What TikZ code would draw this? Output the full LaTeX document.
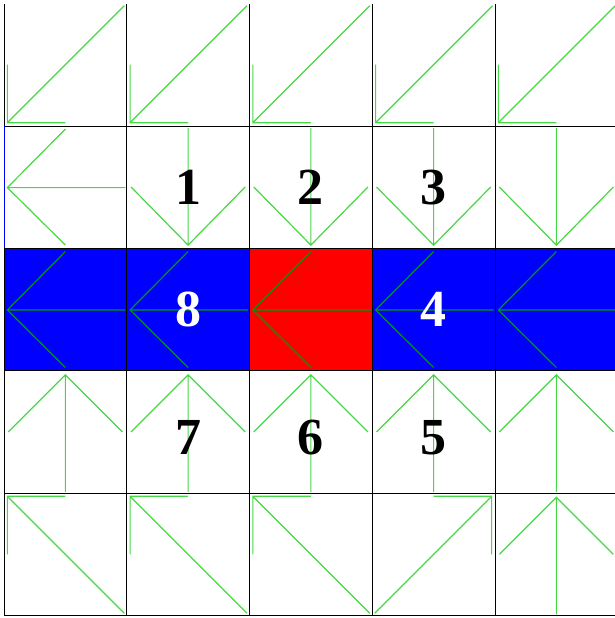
\documentclass[tikz,border=0pt]{standalone}
\usepackage{fontspec}
\setmainfont{Liberation Serif}
\usepackage{xcolor}
\usepackage{tikz}
\usetikzlibrary{positioning}
\definecolor{arrowgreen}{RGB}{70,215,70}
\definecolor{darkgreen}{RGB}{0,150,20}
\definecolor{cellblue}{RGB}{0,0,255}
\definecolor{cellred}{RGB}{255,0,0}
\tikzset{
  cell/.style={draw=black, line width=0.8pt, minimum width=122.75pt,
               minimum height=122.4pt, inner sep=0pt, outer sep=0pt},
  bluecell/.style={cell, fill=cellblue},
  redcell/.style={cell, fill=cellred},
  arrowline/.style={draw=arrowgreen, line width=1.2pt},
  darkline/.style={arrowline, draw=darkgreen},
  num/.style={font=\fontsize{52}{52}\selectfont\bfseries, inner sep=0pt},
  pics/arrW/.style={code={
    \draw[#1] (60,0.5) -- (-58,0.5) (0,-58) -- (-58,0.5) -- (0,58);}},
  pics/arrS/.style={code={
    \draw[arrowline] (0,-59) -- (0,58) (-57,0) -- (0,58) -- (57,0);}},
  pics/arrN/.style={code={
    \draw[arrowline] (0,60) -- (0,-57) (-57,0) -- (0,-57) -- (57,0);}},
  pics/arrSW/.style={code={
    \draw[arrowline] (59,-59) -- (-58,58) (-58,0) -- (-58,58) -- (0,58);}},
  pics/arrNW/.style={code={
    \draw[arrowline] (59,59) -- (-58,-58) (-58,0) -- (-58,-58) -- (0,-58);}},
  pics/arrNE/.style={code={
    \draw[arrowline] (-59,59) -- (58,-58) (0,-58) -- (58,-58) -- (58,0);}}
}

\begin{document}
\begin{tikzpicture}[x=1pt, y=-1pt]
  \useasboundingbox (0,0) rectangle (615,618);
  \clip (0,4.5) rectangle (615,618);
  % 5x5 grid of cells
  \foreach \r in {1,...,5}
    \foreach \c in {1,...,5}
      \node[cell] (c\r\c) at ({4+122.75*(\c-0.5)}, {3.5+122.4*(\r-0.5)}) {};
  \foreach \c in {1,2,4,5}
    \node[bluecell] at (c3\c) {};
  \node[redcell] at (c33) {};
  \draw[cellblue, line width=0.8pt] (c21.north west) -- (c21.south west);
  % arrows
  \foreach \c in {1,...,5} {
    \pic at (c1\c) {arrSW};
    \pic at (c3\c) {arrW=darkline};
    \pic at (c4\c) {arrN};
  }
  \pic at (c21) {arrW=arrowline};
  \foreach \c in {2,...,5}
    \pic at (c2\c) {arrS};
  \foreach \c in {1,2,3}
    \pic at (c5\c) {arrNW};
  \pic at (c54) {arrNE};
  \pic at (c55) {arrN};
  % neighbour numbers
  \node[num] (n1) at (c22) {1};
  \node[num] (n2) at (c23) {2};
  \node[num] (n3) at (c24) {3};
  \node[num, text=white] (n8) at (c32) {8};
  \node[num, text=white] (n4) at (c34) {4};
  \node[num, yshift=-6pt] (n7) at (c42) {7};
  \node[num, yshift=-6pt] (n6) at (c43) {6};
  \node[num, yshift=-6pt] (n5) at (c44) {5};
\end{tikzpicture}
\end{document}
